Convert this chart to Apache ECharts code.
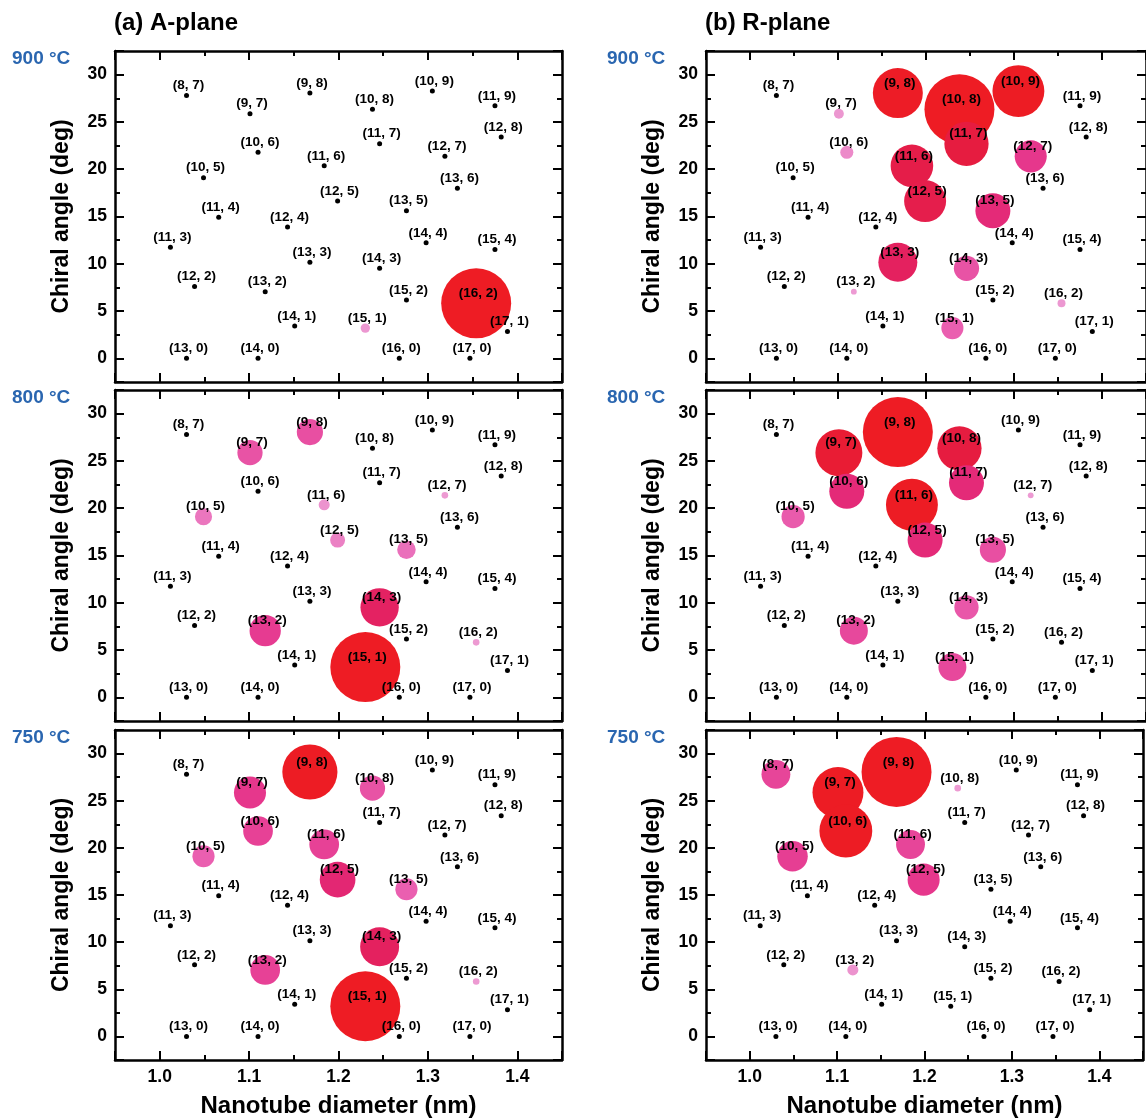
<!DOCTYPE html>
<html>
<head>
<meta charset="utf-8">
<title>Chirality maps, A-plane vs R-plane</title>
<script src="https://cdn.jsdelivr.net/npm/echarts@6/dist/echarts.min.js"></script>
<style>
  html, body { margin: 0; padding: 0; background: #fff; }
  #chart { width: 1146px; height: 1119px; }
</style>
</head>
<body>
<div id="chart"></div>
<script>
// (n, m) species, ordered by diameter so the bigger tube is drawn on top
const chirality = ['(11, 3)', '(8, 7)', '(13, 0)', '(12, 2)', '(10, 5)', '(11, 4)', '(9, 7)', '(10, 6)', '(14, 0)', '(13, 2)',
  '(12, 4)', '(14, 1)', '(9, 8)', '(13, 3)', '(11, 6)', '(12, 5)', '(15, 1)', '(10, 8)', '(11, 7)', '(14, 3)',
  '(16, 0)', '(13, 5)', '(15, 2)', '(14, 4)', '(10, 9)', '(12, 7)', '(13, 6)', '(17, 0)', '(16, 2)', '(11, 9)',
  '(15, 4)', '(12, 8)', '(17, 1)']
// nanotube diameter (nm)
const diameter = [1.012, 1.030, 1.030, 1.039, 1.049, 1.066, 1.101, 1.110, 1.110, 1.118,
  1.143, 1.151, 1.168, 1.168, 1.184, 1.199, 1.230, 1.238, 1.246, 1.246,
  1.268, 1.276, 1.276, 1.298, 1.305, 1.319, 1.333, 1.347, 1.354, 1.375,
  1.375, 1.382, 1.389]
// chiral angle (deg)
const chiralAngle = [11.74, 27.80, 0, 7.59, 19.11, 14.92, 25.87, 21.79, 0, 7.05,
  13.90, 3.42, 28.05, 10.16, 20.36, 16.63, 3.20, 26.33, 22.69, 9.52,
  0, 15.61, 6.18, 12.22, 28.26, 21.36, 17.99, 0, 5.82, 26.70,
  11.52, 23.41, 2.83]

// relative abundance (% of the main species), same order as chirality
const aPlane900 = [0, 0, 0, 0, 0, 0, 0, 0, 0, 0, 0, 0, 0, 0, 0, 0, 1.8, 0, 0, 0, 0, 0, 0, 0, 0, 0, 0, 0, 100, 0, 0, 0, 0]
const aPlane800 = [0, 0, 0, 0, 6, 0, 13, 0, 0, 20, 0, 0, 14, 0, 2.5, 4.6, 100, 0, 0, 30, 0, 7, 0, 0, 0, 0.9, 0, 0, 0.9, 0, 0, 0, 0]
const aPlane750 = [0, 0, 0, 0, 10, 0, 21, 18, 0, 18, 0, 0, 62, 0, 18, 26, 100, 13, 0, 31, 0, 10, 0, 0, 0, 0, 0, 0, 0.9, 0, 0, 0, 0]
const rPlane900 = [0, 0, 0, 0, 0, 0, 2, 3.5, 0, 0.7, 0, 0, 51, 31, 37, 36, 10, 100, 40, 13, 0, 25, 0, 0, 55, 21, 0, 0, 1.3, 0, 0, 0, 0]
const rPlane800 = [0, 0, 0, 0, 11, 0, 45, 25, 0, 16, 0, 0, 100, 0, 55, 25, 16, 40, 25, 12, 0, 14, 0, 0, 0, 0.7, 0, 0, 0, 0, 0, 0, 0]
const rPlane750 = [0, 17, 0, 0, 19, 0, 53, 57, 0, 2.5, 0, 0, 100, 0, 17, 21, 0, 0.9, 0, 0, 0, 0, 0, 0, 0, 0, 0, 0, 0, 0, 0, 0, 0]

const temperatures = ['900 °C', '800 °C', '750 °C']
const planeTitles = ['(a) A-plane', '(b) R-plane']

const font = "'Liberation Sans', Arial, sans-serif"
const panels = [
  [aPlane900, aPlane800, aPlane750],
  [rPlane900, rPlane800, rPlane750]
]
const colLeft = [115, 706]
const rowTop = [51, 390, 730]
const plotW = 447
const plotH = 331
const maxBubble = 70

// pink -> crimson -> red as the bubble grows
const colorStops = [
  [0.0, [238, 160, 214]],
  [0.15, [236, 150, 208]],
  [0.3, [234, 100, 180]],
  [0.45, [230, 58, 144]],
  [0.52, [227, 36, 110]],
  [0.62, [229, 28, 68]],
  [0.72, [237, 28, 36]],
  [1.0, [238, 28, 36]]
]
function bubbleColor (t) {
  for (let i = 1; i < colorStops.length; i++) {
    if (t <= colorStops[i][0]) {
      const a = colorStops[i - 1]
      const b = colorStops[i]
      const k = (t - a[0]) / (b[0] - a[0])
      const c = a[1].map((v, j) => Math.round(v + (b[1][j] - v) * k))
      return `rgb(${c[0]},${c[1]},${c[2]})`
    }
  }
  return 'rgb(238,28,36)'
}

const lineStyle = { color: '#000', width: 2.5 }
const tickStyle = { color: '#000', width: 2 }
const labelStyle = { color: '#000', fontWeight: 'bold', fontSize: 17.5, fontFamily: font }

function xAxis (gridIndex, position, labels, name) {
  return {
    type: 'value',
    gridIndex: gridIndex,
    position: position,
    min: 0.95,
    max: 1.45,
    splitNumber: 5,
    axisLine: { show: true, onZero: false, lineStyle: lineStyle },
    axisTick: { show: true, inside: true, length: 9, lineStyle: tickStyle },
    minorTick: { show: true, splitNumber: 2, length: 5, lineStyle: tickStyle },
    splitLine: { show: false },
    axisLabel: Object.assign({
      show: labels,
      margin: 8,
      formatter: v => Math.abs(v * 10 - Math.round(v * 10)) < 1e-6 ? v.toFixed(1) : ''
    }, labelStyle),
    name: name,
    nameLocation: 'middle',
    nameGap: 34,
    nameTextStyle: { color: '#000', fontWeight: 'bold', fontSize: 24, fontFamily: font }
  }
}

function yAxis (gridIndex, position, labels, name) {
  return {
    type: 'value',
    gridIndex: gridIndex,
    position: position,
    min: -2.5,
    max: 32.5,
    splitNumber: 7,
    axisLine: { show: true, onZero: false, lineStyle: lineStyle },
    axisTick: { show: true, inside: true, length: 9, lineStyle: tickStyle },
    minorTick: { show: true, splitNumber: 2, length: 5, lineStyle: tickStyle },
    splitLine: { show: false },
    axisLabel: Object.assign({
      show: labels,
      margin: 8,
      formatter: v => Math.abs(v / 5 - Math.round(v / 5)) < 1e-6 ? String(Math.round(v)) : ''
    }, labelStyle),
    name: name,
    nameLocation: 'middle',
    nameGap: 42,
    nameTextStyle: { color: '#000', fontWeight: 'bold', fontSize: 23, fontFamily: font }
  }
}

const grid = []
const xAxes = []
const yAxes = []
const series = []
const titles = []

planeTitles.forEach((t, c) => {
  titles.push({
    text: t,
    left: colLeft[c] - 1,
    top: 11,
    padding: 0,
    textStyle: { color: '#000', fontWeight: 'bold', fontSize: 24, fontFamily: font }
  })
})

panels.forEach((col, c) => {
  col.forEach((abundance, r) => {
    const g = grid.length
    grid.push({ left: colLeft[c], top: rowTop[r], width: plotW, height: plotH })
    titles.push({
      text: temperatures[r],
      left: c === 0 ? 12 : 607,
      top: rowTop[r] - 2,
      padding: 0,
      textStyle: { color: '#2a66b0', fontWeight: 'bold', fontSize: 19, fontFamily: font }
    })
    const bottomRow = r === rowTop.length - 1
    xAxes.push(xAxis(g, 'bottom', bottomRow, bottomRow ? 'Nanotube diameter (nm)' : ''))
    xAxes.push(xAxis(g, 'top', false, ''))
    yAxes.push(yAxis(g, 'left', true, 'Chiral angle (deg)'))
    yAxes.push(yAxis(g, 'right', false, ''))

    const data = chirality.map((name, i) => ({
      name: name,
      value: [diameter[i], chiralAngle[i], abundance[i]]
    }))
    series.push({
      type: 'scatter',
      xAxisIndex: g * 2,
      yAxisIndex: g * 2,
      data: data,
      symbol: 'circle',
      symbolSize: v => v[2] > 0 ? maxBubble * Math.sqrt(v[2] / 100) : 5,
      itemStyle: {
        opacity: 1,
        color: p => p.value[2] > 0 ? bubbleColor(Math.sqrt(p.value[2] / 100)) : '#000'
      },
      label: {
        show: true,
        position: 'inside',
        offset: [2, -10],
        formatter: p => p.name,
        color: '#000',
        fontWeight: 'bold',
        fontSize: 13.5,
        fontFamily: font
      },
      emphasis: { disabled: true },
      silent: true,
      animation: false
    })
  })
})

const chart = echarts.init(document.getElementById('chart'))
chart.setOption({
  backgroundColor: '#fff',
  animation: false,
  title: titles,
  grid: grid,
  xAxis: xAxes,
  yAxis: yAxes,
  series: series
})
</script>
</body>
</html>
